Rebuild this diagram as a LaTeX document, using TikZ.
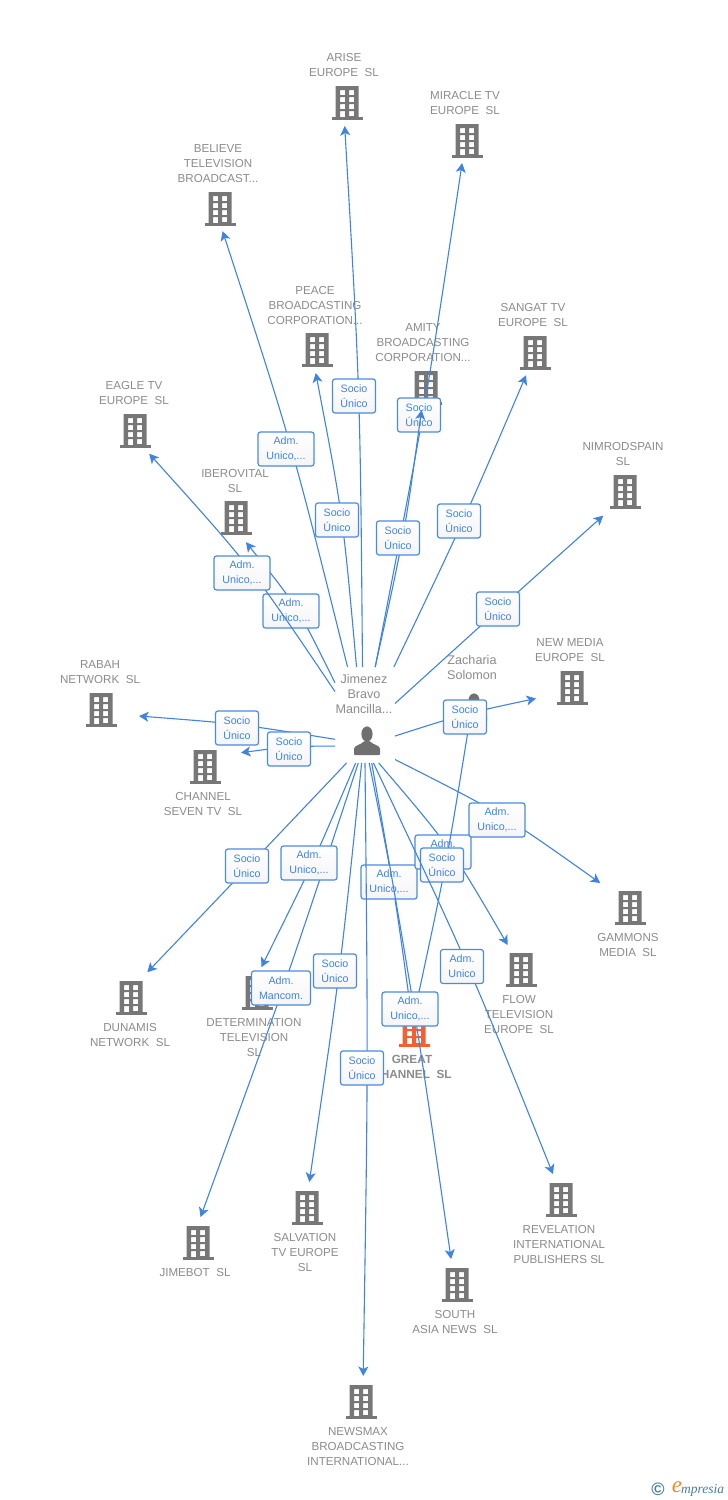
\documentclass[tikz,border=0pt]{standalone}
\usepackage{fontspec}
\setmainfont{Liberation Sans}
\newfontfamily\logofont{Liberation Serif}
\usetikzlibrary{arrows.meta,calc}
\definecolor{bgray}{HTML}{777777}
\definecolor{pgray}{HTML}{707070}
\definecolor{lgray}{HTML}{8C8C8C}
\definecolor{lblue}{HTML}{3F84E5}
\definecolor{bblue}{HTML}{4A8BE2}
\definecolor{orng}{HTML}{F4602F}
\definecolor{logoblue}{HTML}{4A7F9E}
\definecolor{logoorange}{HTML}{F08A24}
\tikzset{
  bnode/.style={rectangle,minimum width=76pt,minimum height=50pt,inner sep=0pt,outer sep=0pt},
  lbl/.style={align=center,text=lgray,inner sep=0pt,font=\fontsize{11.6}{15}\selectfont},
  plbl/.style={align=center,text=lgray,inner sep=0pt,font=\fontsize{12.6}{15}\selectfont},
  glbl/.style={align=center,text=lgray,inner sep=0pt,font=\fontsize{11.8}{15}\selectfont\bfseries},
  link/.style={draw=lblue,line width=1.1pt,-{Stealth[length=9.5pt,width=10pt,inset=2.5pt]}},
  tagbox/.style={draw=bblue,line width=1.2pt,rounded corners=2.5pt,top color=white,bottom color=black!4,
     align=center,text=lblue,inner sep=0pt,minimum height=34pt,font=\fontsize{10.7}{15}\selectfont},
  sbox/.style={tagbox,minimum width=43pt},
  abox/.style={tagbox,minimum width=56pt},
  mbox/.style={tagbox,minimum width=59pt},
}
\newcommand{\Bld}[4][bgray]{%
  \node[bnode] (#2) at (#3,#4) {};
  \begin{scope}[shift={(#3,#4)}]
    \fill[#1,even odd rule] (-11.5,-17) rectangle (11.5,14)
      (-7,-13) rectangle (-2,-8) (2,-13) rectangle (7,-8)
      (-7,-6) rectangle (-2,-1) (2,-6) rectangle (7,-1)
      (-7,1) rectangle (-2,6) (2,1) rectangle (7,6)
      (-7,8) rectangle (-2,14) (2,8) rectangle (7,13);
    \fill[#1] (-15.5,14) rectangle (15.5,17);
  \end{scope}}
\newcommand{\Person}[2]{%
  \begin{scope}[shift={(#1,#2)}]
    \fill[pgray] (0,-7) ellipse (5.6 and 7.6);
    \fill[pgray,rounded corners=1pt] (-13,14) -- (-13,9) .. controls (-13,4) and (-6,4) .. (-3,0) -- (3,0) .. controls (6,4) and (13,4) .. (13,9) -- (13,14) -- cycle;
  \end{scope}}
% connector: shorten at the tip, source anchor, target anchor, bow of the curve
\newcommand{\Lnk}[4]{\draw[link,shorten >=#1pt] (#2) .. controls ($(#2)!.5!(#3)+(#4)$) .. (#3);}
\begin{document}
\begin{tikzpicture}[x=1pt,y=-1pt]
\useasboundingbox (0,0) rectangle (728,1500);
\fill[white] (0,0) rectangle (728,1500);

% buildings
\Bld{arise}{347}{103}
\Bld{miracle}{467}{141}
\Bld{believe}{220}{209}
\Bld{peace}{317}{350}
\Bld{amity}{426}{388}
\Bld{sangat}{535}{353}
\Bld{eagle}{135}{431}
\Bld{ibero}{236}{518}
\Bld{nimrod}{625}{492}
\Bld{newmedia}{572}{688}
\Bld{rabah}{101}{710}
\Bld{channel}{205}{767}
\Bld{gammons}{630}{908}
\Bld{dunamis}{131}{998}
\Bld{determ}{257}{993}
\Bld{flow}{521}{970}
\Bld[orng]{great}{414}{1030}
\Bld{revel}{561}{1200}
\Bld{salv}{307}{1208}
\Bld{jimebot}{198}{1243}
\Bld{south}{457}{1285}
\Bld{newsmax}{361}{1402}

% labels
\node[lbl] (larise) at (344,65.5) {ARISE\\EUROPE\ \ SL};
\node[lbl] (lmiracle) at (465,103) {MIRACLE TV\\EUROPE\ \ SL};
\node[lbl] (lbelieve) at (218,164) {BELIEVE\\TELEVISION\\BROADCAST...};
\node[lbl] (lpeace) at (315,305) {PEACE\\BROADCASTING\\CORPORATION...};
\node[lbl] (lamity) at (423,343) {AMITY\\BROADCASTING\\CORPORATION...};
\node[lbl] (lsangat) at (533,315) {SANGAT TV\\EUROPE\ \ SL};
\node[lbl] (leagle) at (134,393) {EAGLE TV\\EUROPE\ \ SL};
\node[lbl] (libero) at (235,481) {IBEROVITAL\\SL};
\node[lbl] (lnimrod) at (623,454) {NIMRODSPAIN\\SL};
\node[lbl] (lnewmedia) at (570,650.5) {NEW MEDIA\\EUROPE\ \ SL};
\node[lbl] (lrabah) at (100,672.5) {RABAH\\NETWORK\ \ SL};
\node[lbl] (lchannel) at (203,803.5) {CHANNEL\\SEVEN TV\ \ SL};
\node[lbl] (lgammons) at (628,944.5) {GAMMONS\\MEDIA\ \ SL};
\node[lbl] (ldunamis) at (130,1034.5) {DUNAMIS\\NETWORK\ \ SL};
\node[lbl] (ldeterm) at (254,1037) {DETERMINATION\\TELEVISION\\SL};
\node[lbl] (lflow) at (519,1014) {FLOW\\TELEVISION\\EUROPE\ \ SL};
\node[glbl] (lgreat) at (412,1067) {GREAT\\CHANNEL\ \ SL};
\node[lbl] (lrevel) at (559,1244) {REVELATION\\INTERNATIONAL\\PUBLISHERS SL};
\node[lbl] (lsalv) at (305,1252) {SALVATION\\TV EUROPE\\SL};
\node[lbl] (ljimebot) at (195,1272) {JIMEBOT\ \ SL};
\node[lbl] (lsouth) at (455,1321.5) {SOUTH\\ASIA NEWS\ \ SL};
\node[lbl] (lnewsmax) at (358,1446) {NEWSMAX\\BROADCASTING\\INTERNATIONAL...};

% people
\node[plbl] (ljimenez) at (364,694) {Jimenez\\Bravo\\Mancilla...};
\node[plbl] (lzach) at (472,667) {Zacharia\\Solomon};
\Person{367}{741}
\Person{474}{708}
\node[rectangle,minimum width=60pt,minimum height=96pt,inner sep=0pt,outer sep=0pt] (p) at (365,715) {};
\node[rectangle,minimum width=55pt,minimum height=79pt,inner sep=0pt,outer sep=0pt] (z) at (472.5,689.5) {};

% connectors with their role boxes, in stacking order
\Lnk{0}{p.-85.8}{great.99}{3.5,-2}
\node[abox] (tgreat) at (389,882) {Adm.\\Unico,...};

\Lnk{0}{p.-74.8}{flow.118.3}{8,-6}
\node[abox] (tflow) at (443,852) {Adm.\\Unico,...};

\Lnk{0}{z.-96.5}{great.85.4}{4,-2}
\node[sbox] (tzach) at (442,865) {Socio\\Único};

\Lnk{1}{p.-80.5}{revel.107.1}{6,-3}
\node[sbox] (trevel) at (462,966.5) {Adm.\\Unico};

\Lnk{1}{p.-82.9}{south.103}{3.5,-2}
\node[abox] (tsouth) at (410,1009) {Adm.\\Unico,...};

\Lnk{1}{p.-90}{newsmax.85.6}{4,-2}
\node[sbox] (tnewsmax) at (362,1068) {Socio\\Único};

\Lnk{1}{p.-98.3}{jimebot.85.6}{5,-3}
\node[mbox] (tjimebot) at (281,988) {Adm.\\Mancom.};

\Lnk{1}{p.-101.8}{determ.81.3}{5,-3}
\node[abox] (tdeterm) at (309,863) {Adm.\\Unico,...};

\Lnk{1}{p.-94.8}{salv.85.6}{5,-3}
\node[sbox] (tsalv) at (335,971) {Socio\\Único};

\Lnk{1}{p.-111.6}{dunamis.58.4}{6.5,-6.5}
\node[sbox] (tdunamis) at (247,866) {Socio\\Único};

\Lnk{0}{p.-56.9}{gammons.140.2}{6.5,-6.5}
\node[abox] (tgammons) at (497,820) {Adm.\\Unico,...};

\Lnk{-2}{p.-35}{newmedia.-164.5}{1,-4}
\node[sbox] (tnewmedia) at (465,717) {Socio\\Único};

\Lnk{0}{p.-141.3}{rabah.-9}{1,-4}
\node[sbox] (trabah) at (237,728) {Socio\\Único};

\Lnk{-2}{p.-134.1}{channel.21.3}{1,-3}
\node[sbox] (tchannel) at (289,749) {Socio\\Único};

\Lnk{-1}{p.133.2}{ibero.-67.4}{6.5,-6.5}
\node[abox] (tibero) at (291,611) {Adm.\\Unico,...};

\Lnk{-3}{p.142.5}{eagle.-57.5}{7.5,-7.5}
\node[abox] (teagle) at (242,573) {Adm.\\Unico,...};

\Lnk{-2}{p.21.8}{nimrod.-133.7}{6.5,-6.5}
\node[sbox] (tnimrod) at (498,609) {Socio\\Único};

\Lnk{-3}{p.59.7}{sangat.-112.2}{5,-3}
\node[sbox] (tsangat) at (459,521) {Socio\\Único};

\Lnk{-3}{p.110.9}{believe.-82.2}{6.5,-6.5}
\node[abox] (tbelieve) at (286,449) {Adm.\\Unico,...};

\Lnk{-2}{p.100.6}{peace.-92.5}{6.5,-6.5}
\node[sbox] (tpeace) at (337,520) {Socio\\Único};

\Lnk{-2}{p.93.2}{arise.-95}{6.5,-6.5}
\node[sbox] (tarise) at (354,396) {Socio\\Único};

\Lnk{-3}{p.78.2}{miracle.-102.8}{6.5,-6.5}
\node[sbox] (tmiracle) at (419,415) {Socio\\Único};

\Lnk{-3}{p.78.2}{amity.-101.3}{6.5,-6.5}
\node[sbox] (tamity) at (398,538) {Socio\\Único};

% logo
\node[inner sep=0pt,text=logoblue,font=\fontsize{18}{18}\selectfont\bfseries] (lc) at (658,1489) {©};
\node[inner sep=0pt,text=logoorange,font=\logofont\itshape\fontsize{23}{23}\selectfont] (le) at (677,1487) {e};
\node[inner sep=0pt,anchor=west,text=logoblue,font=\logofont\itshape\fontsize{13.5}{13.5}\selectfont] (lm) at (681,1490) {mpresia};
\end{tikzpicture}
\end{document}
